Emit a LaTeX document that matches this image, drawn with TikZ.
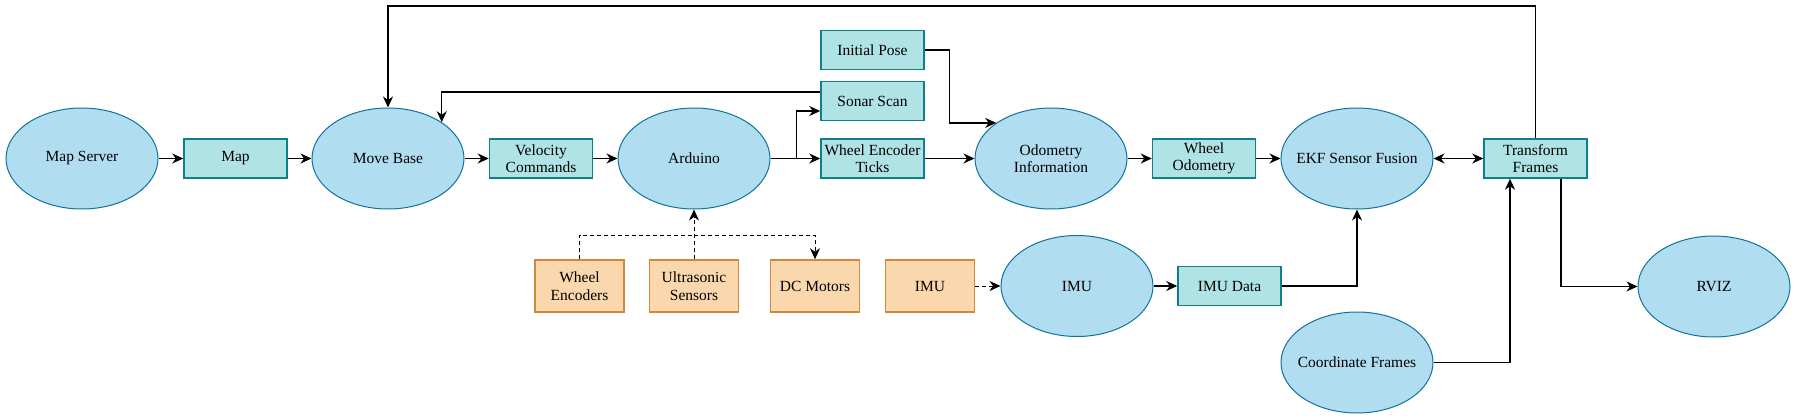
\documentclass[tikz,border=0pt]{standalone}
\usepackage{fontspec}
\setmainfont{Liberation Serif}
\usepackage{tikz}
\usetikzlibrary{shapes,arrows.meta,positioning,calc}
\definecolor{rosfill}{HTML}{B1DDF0}
\definecolor{rosline}{HTML}{10739E}
\definecolor{msgfill}{HTML}{B0E3E6}
\definecolor{msgline}{HTML}{0E8088}
\definecolor{hwfill}{HTML}{FAD7AC}
\definecolor{hwline}{HTML}{CC8A3C}
\tikzstyle{ros} = [ellipse,draw=rosline,fill=rosfill,line width=1pt,inner sep=0pt,minimum width=152pt,minimum height=101pt,align=center,font=\rmfamily\fontsize{15.5}{17.5}\selectfont]
\tikzstyle{msg} = [rectangle,draw=msgline,fill=msgfill,line width=1.5pt,inner sep=0pt,minimum width=103pt,minimum height=39pt,align=center,font=\rmfamily\fontsize{15.5}{17.5}\selectfont]
\tikzstyle{hw} = [rectangle,draw=hwline,fill=hwfill,line width=1.5pt,inner sep=0pt,minimum width=89pt,minimum height=52pt,align=center,font=\rmfamily\fontsize{15.5}{17.5}\selectfont]
\tikzstyle{wire} = [line width=1pt,dash pattern=on 4pt off 3pt]

\begin{document}
\begin{tikzpicture}[x=1pt,y=-1pt,>={Stealth[length=11pt,width=10pt,inset=3.5pt]},line width=1.3pt]
    \useasboundingbox (0,0) rectangle (1797,420);

    % main row
    \node [ros] (ms) at (82,158.5) {Map Server};
    \node [msg] (map) at (235.5,158.5) {Map};
    \node [ros] (mb) at (388,158.5) {Move Base};
    \node [msg] (vel) at (541,158.5) {Velocity\\Commands};
    \node [ros] (ard) at (694,158.5) {Arduino};
    \node [msg] (pose) at (872.5,50) {Initial Pose};
    \node [msg] (sonar) at (872.5,101) {Sonar Scan};
    \node [msg] (ticks) at (872.5,158.5) {Wheel Encoder\\Ticks};
    \node [ros] (odo) at (1051,158.5) {Odometry\\Information};
    \node [msg] (wodo) at (1204,158.5) {Wheel\\Odometry};
    \node [ros] (ekf) at (1357,158.5) {\makebox[90pt]{EKF Sensor Fusion}};
    \node [msg] (tf) at (1535.5,158.5) {Transform\\Frames};

    % lower row
    \node [hw] (wenc) at (579.5,286) {Wheel\\Encoders};
    \node [hw] (ultra) at (694,286) {Ultrasonic\\Sensors};
    \node [hw] (dcm) at (815,286) {DC Motors};
    \node [hw] (imusens) at (930,286) {IMU};
    \node [ros] (imu) at (1077,286) {IMU};
    \node [msg] (imudata) at (1229.5,286) {IMU Data};
    \node [ros] (coord) at (1357,362.5) {\makebox[90pt]{Coordinate Frames}};
    \node [ros] (rviz) at (1714,286.5) {RVIZ};

    \coordinate (top) at (0,6);
    \coordinate (bus) at (0,235);

    \draw [->] (ms) -- (map);
    \draw [->] (map) -- (mb);
    \draw [->] (mb) -- (vel);
    \draw [->] (vel) -- (ard);
    \draw [->] (ard) -- (ticks);
    \draw [->] (ard.east) -- ++(26,0) |- ($(sonar.west)+(0,10)$);
    \draw [->] (ticks) -- (odo);
    \draw [->] (pose.east) -- ++(25,0) |- (odo.147);
    \draw [->] ($(sonar.west)+(0,-9)$) -| (mb.34);
    \draw [->] (odo) -- (wodo);
    \draw [->] (wodo) -- (ekf);
    \draw [<->] (ekf) -- (tf);
    \draw [->] (tf.north) -- (tf.north |- top) -| (mb.north);
    \draw [->] ($(tf.south)+(25.5,0)$) |- (rviz.west);
    \draw [->] (coord.east) -| ($(tf.south)+(-25.5,0)$);
    \draw [->] (imudata.east) -| (ekf.south);
    \draw [->] (imu) -- (imudata);
    \draw [->,wire] (imusens) -- (imu);

    % sensors and motors
    \draw [wire] (wenc.north) |- (ultra.north |- bus);
    \draw [->,wire] (ultra.north) -- (ard.south);
    \draw [->,wire] (ultra.north |- bus) -| (dcm.north);
  \end{tikzpicture}
\end{document}
